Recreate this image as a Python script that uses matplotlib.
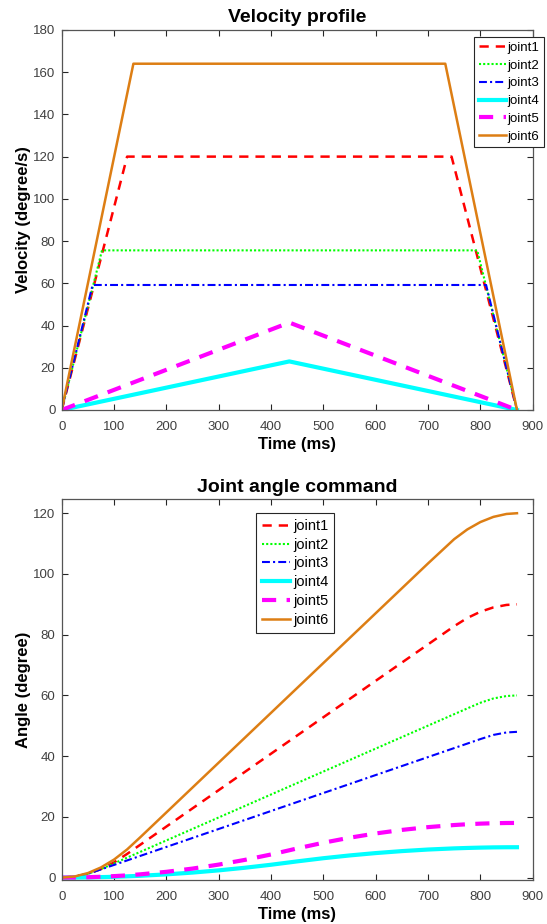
import numpy as np
import matplotlib.pyplot as plt

plt.rcParams['font.family'] = ['Liberation Sans', 'DejaVu Sans']

names = ['joint1', 'joint2', 'joint3', 'joint4', 'joint5', 'joint6']

# velocity breakpoints (ms, degree/s)
vel_t = [
    [0, 125, 745, 870],
    [0, 77, 794, 870],
    [0, 59, 811, 870],
    [0, 435, 870],
    [0, 435, 870],
    [0, 137, 733, 870],
]
vel_v = [
    [0, 120, 120, 0],
    [0, 75.6, 75.6, 0],
    [0, 59.2, 59.2, 0],
    [0, 23, 0],
    [0, 41.4, 0],
    [0, 164, 164, 0],
]

# joint angle command (ms, degree)
ang_t = [0, 25, 50, 75, 100, 125, 150, 200, 250, 300, 350, 400, 435, 450,
         500, 550, 600, 650, 700, 750, 775, 800, 825, 850, 870]
ang_j1 = [0, 0.31, 1.25, 2.81, 5.0, 7.8, 10.8, 16.8, 22.8, 28.8, 34.8, 40.8, 45.0, 46.8,
          52.8, 58.8, 64.8, 70.8, 76.8, 82.8, 85.49, 87.55, 88.99, 89.8, 90]
ang_j2 = [0, 0.31, 1.24, 2.79, 4.68, 6.57, 8.46, 12.24, 16.02, 19.80, 23.58, 27.36, 30.01, 31.14,
          34.92, 38.70, 42.48, 46.26, 50.04, 53.82, 55.71, 57.57, 59.0, 59.8, 60]
ang_j3 = [0, 0.31, 1.25, 2.69, 4.17, 5.65, 7.13, 10.09, 13.05, 16.01, 18.97, 21.93, 24.0, 24.89,
          27.85, 30.81, 33.77, 36.73, 39.69, 42.65, 44.13, 45.61, 46.99, 47.8, 48]
ang_j4 = [0, 0.02, 0.07, 0.15, 0.26, 0.41, 0.59, 1.06, 1.65, 2.38, 3.24, 4.23, 5.0, 5.34,
          6.38, 7.29, 8.07, 8.72, 9.24, 9.62, 9.76, 9.87, 9.95, 9.99, 10]
ang_j5 = [0, 0.03, 0.12, 0.27, 0.48, 0.74, 1.07, 1.90, 2.97, 4.28, 5.83, 7.61, 9.0, 9.61,
          11.48, 13.13, 14.53, 15.70, 16.62, 17.31, 17.57, 17.77, 17.90, 17.98, 18.0]
ang_j6 = [0, 0.37, 1.48, 3.34, 5.93, 9.27, 13.26, 21.46, 29.66, 37.86, 46.06, 54.26, 60.0, 62.46,
          70.66, 78.86, 87.06, 95.26, 103.46, 111.46, 114.65, 117.09, 118.8, 119.76, 120]
angles = [ang_j1, ang_j2, ang_j3, ang_j4, ang_j5, ang_j6]

# matlab-ish line styles
styles = [
    dict(color='#FF0000', lw=1.8, dashes=(3.7, 2.8)),
    dict(color='#00FF00', lw=1.5, dashes=(1, 1)),
    dict(color='#0000FF', lw=1.5, dashes=(3.8, 1.5, 1, 1.5)),
    dict(color='#00FFFF', lw=3.0, linestyle='-'),
    dict(color='#FF00FF', lw=3.0, dashes=(3.4, 2.5)),
    dict(color='#DD7E14', lw=1.8, linestyle='-'),
]

grey = '#262626'

def style_axes(ax):
    ax.tick_params(direction='in', top=True, right=True, length=4, width=0.8,
                   colors=grey, labelsize=9.5, labelcolor='#404040')
    ax.tick_params(axis='x', pad=8)
    ax.tick_params(axis='y', pad=4.5)
    for s in ax.spines.values():
        s.set_color('#555555')
        s.set_linewidth(0.9)

def style_legend(leg):
    leg.get_frame().set_edgecolor(grey)
    leg.get_frame().set_linewidth(0.8)

fig = plt.figure(figsize=(5.47, 9.24), dpi=100)

ax1 = fig.add_axes([0.1128, 0.5563, 0.861, 0.4113])
for i in range(6):
    ax1.plot(vel_t[i], vel_v[i], label=names[i], **styles[i])
ax1.set_xlim(0, 900)
ax1.set_ylim(0, 180)
ax1.set_xticks(np.arange(0, 901, 100))
ax1.set_yticks(np.arange(0, 181, 20))
style_axes(ax1)
ax1.set_title('Velocity profile', fontsize=14, fontweight='bold', pad=5.5)
ax1.set_xlabel('Time (ms)', fontsize=12, fontweight='bold', labelpad=2.5)
ax1.set_ylabel('Velocity (degree/s)', fontsize=12, fontweight='bold', labelpad=1.5)
leg1 = ax1.legend(loc='upper left', bbox_to_anchor=(474 / 547, 1 - 37 / 924),
                  bbox_transform=fig.transFigure, fontsize=9.5, handlelength=2.1,
                  handletextpad=0.1, borderpad=0.35, labelspacing=0.42,
                  borderaxespad=0, fancybox=False, framealpha=1)
style_legend(leg1)

ax2 = fig.add_axes([0.1128, 0.0476, 0.861, 0.4124])
for i in range(6):
    ax2.plot(ang_t, angles[i], label=names[i], **styles[i])
ax2.set_xlim(0, 900)
ax2.set_ylim(-0.8, 124.7)
ax2.set_xticks(np.arange(0, 901, 100))
ax2.set_yticks(np.arange(0, 121, 20))
style_axes(ax2)
ax2.set_title('Joint angle command', fontsize=14, fontweight='bold', pad=5)
ax2.set_xlabel('Time (ms)', fontsize=12, fontweight='bold', labelpad=2.5)
ax2.set_ylabel('Angle (degree)', fontsize=12, fontweight='bold', labelpad=1.5)
leg2 = ax2.legend(loc='upper left', bbox_to_anchor=(256 / 547, 1 - 513 / 924),
                  bbox_transform=fig.transFigure, fontsize=10.5, handlelength=1.9,
                  handletextpad=0.25, borderpad=0.4, labelspacing=0.33,
                  borderaxespad=0, fancybox=False, framealpha=1)
style_legend(leg2)

fig.savefig('out.png', dpi=100)
